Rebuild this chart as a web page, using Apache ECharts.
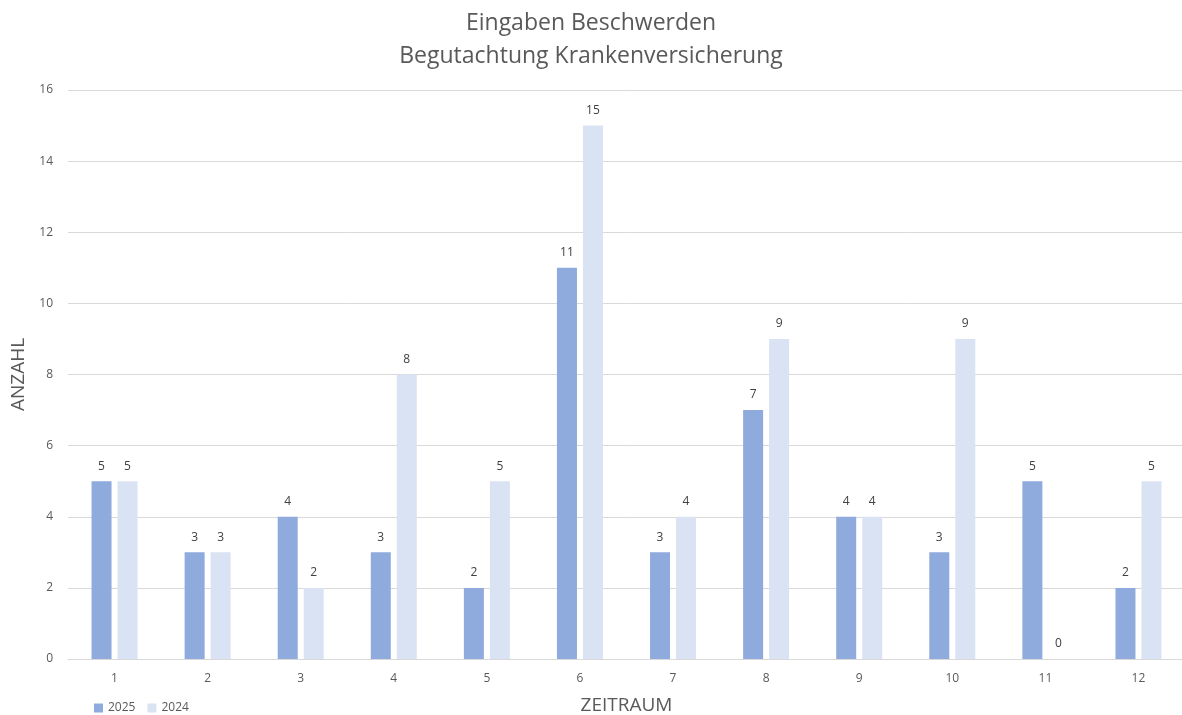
<!DOCTYPE html>
<html>
<head>
<meta charset="utf-8">
<script src="https://cdn.jsdelivr.net/npm/echarts@6/dist/echarts.min.js"></script>
<style>html,body{margin:0;padding:0;background:#fff}#c{width:1182px;height:715px}</style>
</head>
<body>
<div id="c"></div>
<script>
const categories = ['1','2','3','4','5','6','7','8','9','10','11','12'];
const values2025 = [5,3,4,3,2,11,3,7,4,3,5,2];
const values2024 = [5,3,2,8,5,15,4,9,4,9,0,5];
const seriesNames = ['2025','2024'];
const yTicks = {min:0, max:16, interval:2};

const font = '"Open Sans", "Liberation Sans", sans-serif';
const chart = echarts.init(document.getElementById('c'));
chart.setOption({
  animation: false,
  textStyle: {fontFamily: font},
  title: {
    text: 'Eingaben Beschwerden\nBegutachtung Krankenversicherung',
    left: 'center', top: 2,
    textStyle: {color:'#595959', fontSize:23, fontWeight:'normal', lineHeight:33, fontFamily: font}
  },
  legend: {
    data: seriesNames, left: 89, top: 697,
    itemWidth: 9, itemHeight: 9, itemGap: 12,
    icon: 'rect',
    textStyle: {color:'#595959', fontSize:12, fontFamily: font}
  },
  grid: {left:68, right:-3, top:90, bottom:56, outerBoundsMode:'none', containLabel:false},
  xAxis: {
    type:'category', data: categories,
    name: 'ZEITRAUM', nameLocation:'middle', nameGap: 37,
    nameTextStyle: {color:'#595959', fontSize:19, fontFamily: font},
    axisLine: {lineStyle:{color:'#d9d9d9'}},
    axisTick: {show:false},
    axisLabel: {color:'#595959', fontSize:12, margin:14}
  },
  yAxis: {
    type:'value', min: yTicks.min, max: yTicks.max, interval: yTicks.interval,
    name: 'ANZAHL', nameLocation:'middle', nameGap: 40, nameRotate: 90,
    nameTextStyle: {color:'#595959', fontSize:19, fontFamily: font},
    axisLine: {show:false}, axisTick:{show:false},
    axisLabel: {color:'#595959', fontSize:12, margin:15},
    splitLine: {lineStyle:{color:'#d9d9d9'}}
  },
  series: [
    {name: seriesNames[0], type:'bar', data: values2025, barWidth: 20, barGap: '30%',
     itemStyle:{color:'#8faadc'},
     label:{show:true, position:'top', color:'#404040', fontSize:12, distance:9}},
    {name: seriesNames[1], type:'bar', data: values2024, barWidth: 20,
     itemStyle:{color:'#dae3f3'},
     label:{show:true, position:'top', color:'#404040', fontSize:12, distance:9}}
  ]
});
</script>
</body>
</html>
